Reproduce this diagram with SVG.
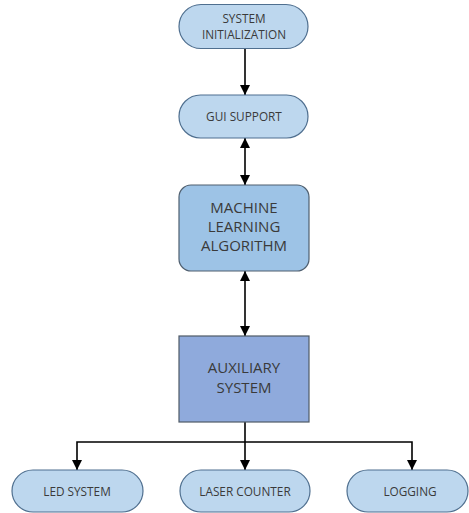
<svg xmlns="http://www.w3.org/2000/svg" width="469" height="513" viewBox="0 0 469 513">
<defs>
<marker id="ah" viewBox="0 0 10 10" refX="10" refY="5" markerWidth="10" markerHeight="10" markerUnits="userSpaceOnUse" orient="auto-start-reverse">
<path d="M0,0 L10,5 L0,10 z" fill="#000"/>
</marker>
<style>
.t{font-family:"Open Sans","Liberation Sans",sans-serif;fill:#3a3a3a;text-anchor:middle}
.s{font-size:11.8px}
.b{font-size:15px}
.pill{fill:#bdd7ee;stroke:#4f6f8f;stroke-width:1.2}
.ml{fill:#9dc3e6;stroke:#4f5f6f;stroke-width:1.2}
.aux{fill:#8faadc;stroke:#4f5a66;stroke-width:1.2}
.c{stroke:#000;stroke-width:1.6;fill:none}
</style>
</defs>
<rect width="469" height="513" fill="#fff"/>
<g id="connectors">
<line class="c" x1="245" y1="49" x2="245" y2="95" marker-end="url(#ah)"/>
<line class="c" x1="245" y1="138" x2="245" y2="185" marker-start="url(#ah)" marker-end="url(#ah)"/>
<line class="c" x1="245" y1="271" x2="245" y2="336" marker-start="url(#ah)" marker-end="url(#ah)"/>
<polyline class="c" points="245,422 245,442"/>
<polyline class="c" points="77,470 77,442 412,442 412,470" marker-start="url(#ah)" marker-end="url(#ah)"/>
<line class="c" x1="245" y1="442" x2="245" y2="470" marker-end="url(#ah)"/>
</g>
<g id="n-init">
<rect class="pill" x="179" y="4.5" width="129" height="44" rx="22"/>
<text class="t s" x="244" y="23">SYSTEM</text>
<text class="t s" x="244" y="39">INITIALIZATION</text>
</g>
<g id="n-gui">
<rect class="pill" x="179" y="95" width="129" height="43" rx="21.5"/>
<text class="t s" x="244" y="121">GUI SUPPORT</text>
</g>
<g id="n-ml">
<rect class="ml" x="179" y="185" width="130" height="86" rx="12"/>
<text class="t b" x="244" y="213">MACHINE</text>
<text class="t b" x="244" y="232">LEARNING</text>
<text class="t b" x="244" y="251">ALGORITHM</text>
</g>
<g id="n-aux">
<rect class="aux" x="179" y="336" width="130" height="86"/>
<text class="t b" x="244" y="373">AUXILIARY</text>
<text class="t b" x="244" y="393">SYSTEM</text>
</g>
<g id="n-led">
<rect class="pill" x="12" y="470" width="131" height="42" rx="21"/>
<text class="t s" x="77" y="496">LED SYSTEM</text>
</g>
<g id="n-laser">
<rect class="pill" x="180" y="470" width="130" height="42" rx="21"/>
<text class="t s" x="245" y="496">LASER COUNTER</text>
</g>
<g id="n-log">
<rect class="pill" x="347" y="470" width="121" height="42" rx="21"/>
<text class="t s" x="410" y="496">LOGGING</text>
</g>
</svg>
